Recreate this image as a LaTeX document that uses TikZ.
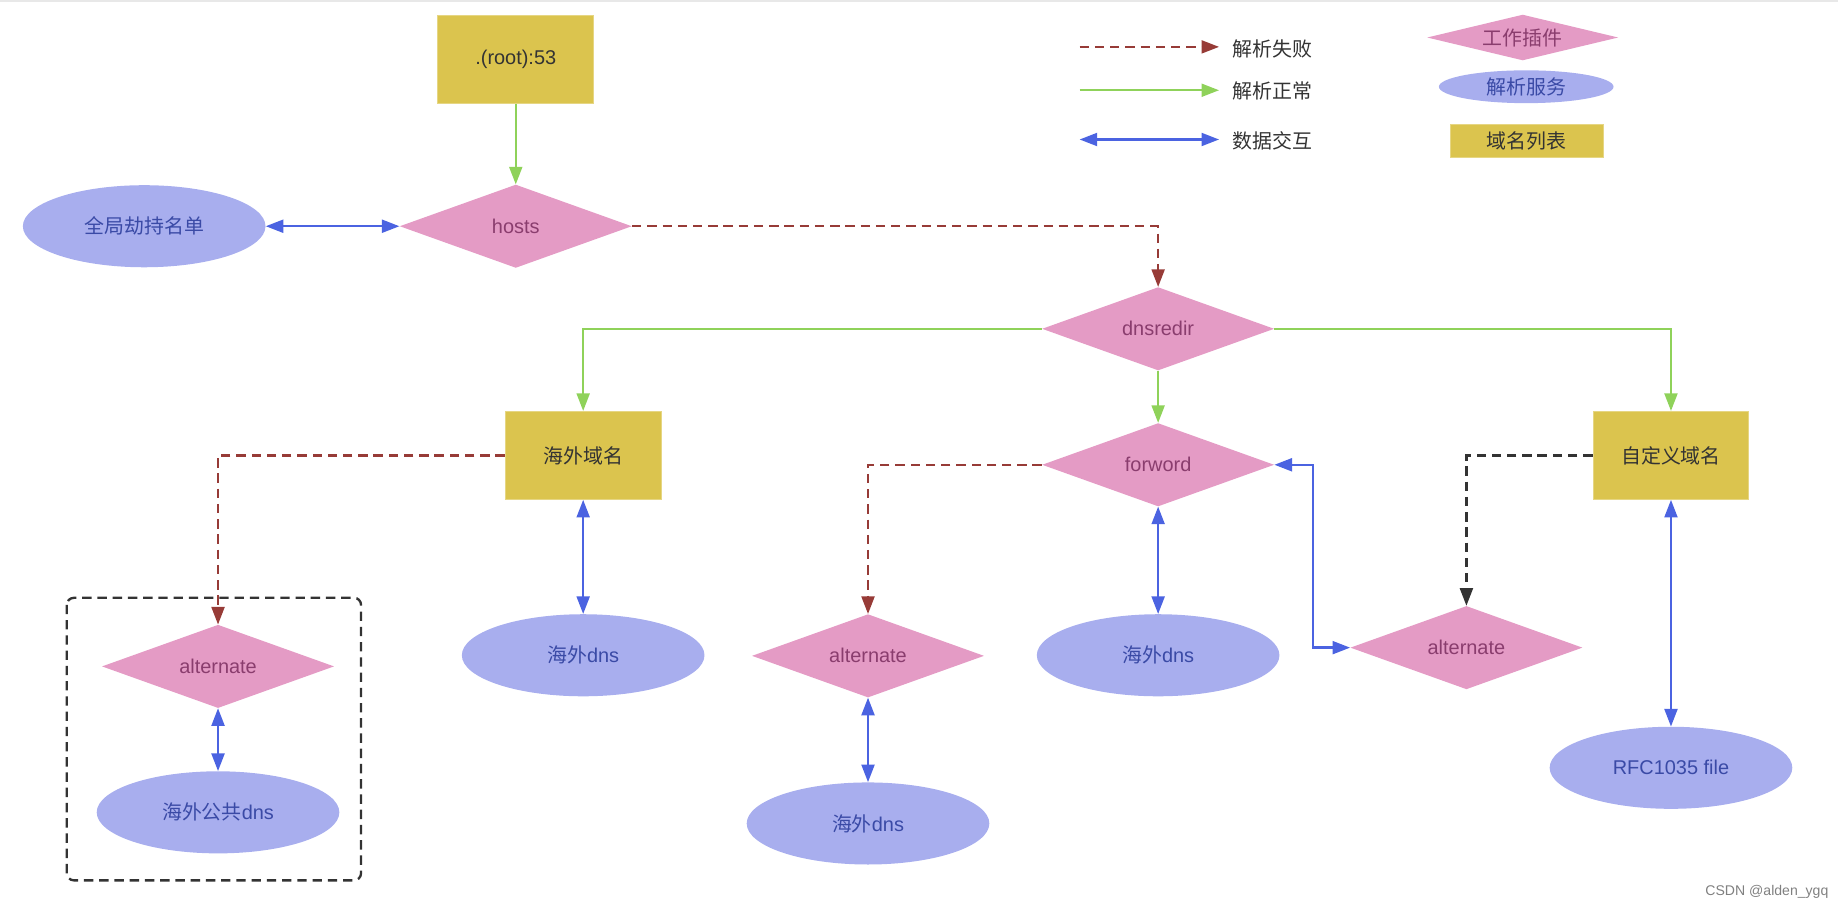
\documentclass[tikz,border=0pt]{standalone}
\usepackage{fontspec}
\setmainfont{Liberation Sans}
\newfontfamily\cjk{Noto Sans CJK SC}
\usetikzlibrary{arrows.meta,shapes.geometric}
\definecolor{listyellow}{HTML}{DBC44E}
\definecolor{pluginpink}{HTML}{E49BC5}
\definecolor{servblue}{HTML}{A8AEEE}
\definecolor{failred}{HTML}{973B37}
\definecolor{okgreen}{HTML}{8FD25A}
\definecolor{datablue}{HTML}{4B63E1}
\definecolor{plugintext}{HTML}{8A3D6E}
\definecolor{servtext}{HTML}{3A4AA6}
\definecolor{darktext}{HTML}{333333}
\tikzset{
  txt/.style={font=\fontsize{17}{20}\selectfont},
  domlist/.style={txt, rectangle, fill=listyellow, draw=listyellow!70!white, line width=0.8pt,
    text=darktext, minimum width=133pt, minimum height=75pt, inner sep=0pt},
  plugin/.style={txt, diamond, aspect=2.8, fill=pluginpink, text=plugintext,
    minimum width=198pt, minimum height=71pt, inner sep=0pt},
  serv/.style={txt, ellipse, fill=servblue, text=servtext,
    minimum width=207pt, minimum height=70pt, inner sep=0pt},
  fail/.style={draw=failred, line width=2pt, dash pattern=on 8pt off 5pt, -{Triangle[length=15pt,width=11pt]}, failred},
  okpath/.style={draw=okgreen, line width=2pt, -{Triangle[length=15pt,width=11pt]}, okgreen},
  data/.style={draw=datablue, line width=2pt, {Triangle[length=15pt,width=11pt]}-{Triangle[length=15pt,width=11pt]}, datablue},
  backup/.style={draw=darktext, line width=2pt, dash pattern=on 8pt off 5pt, -{Triangle[length=15pt,width=11pt]}, darktext},
  legtext/.style={txt, text=darktext, anchor=west, inner sep=0pt}
}

\begin{document}
\begin{tikzpicture}[x=1pt,y=-1pt]
			%%%%% START %%%%%
			\useasboundingbox (0,0) rectangle (1568,776);
			\fill[black!9] (0,0) rectangle (1568,2);
			
			% legend
			\coordinate (lfa) at (921,40);
			\coordinate (lfb) at (1040,40);
			\coordinate (loa) at (921,77);
			\coordinate (lob) at (1040,77);
			\coordinate (lda) at (921,119);
			\coordinate (ldb) at (1040,119);
			\draw[fail] (lfa) -- (lfb);
			\draw[okpath] (loa) -- (lob);
			\draw[data] (lda) -- (ldb);
			\node[legtext] (lfail) at (1051,42) {\cjk 解析失败};
			\node[legtext] (lok) at (1051,78) {\cjk 解析正常};
			\node[legtext] (ldata) at (1051,120) {\cjk 数据交互};
			\node[plugin, minimum width=163pt, minimum height=39pt, aspect=4.2] (lplugin) at (1299,32) {\cjk 工作插件};
			\node[serv, minimum width=149pt, minimum height=28pt] (lserv) at (1302,74) {\cjk 解析服务};
			\node[domlist, minimum width=131pt, minimum height=28pt] (llist) at (1302.5,120) {\cjk 域名列表};
			
			% nodes
			\node[domlist] (root) at (440,50.5) {.(root):53};
			\node[plugin] (hosts) at (440,193) {hosts};
			\node[serv] (hijack) at (123,193) {\cjk 全局劫持名单};
			\node[plugin] (dnsredir) at (988,280.5) {dnsredir};
			\node[domlist] (oversea) at (497.5,388.5) {\cjk 海外域名};
			\node[plugin] (forword) at (988,396.5) {forword};
			\node[domlist] (custom) at (1425.5,388.5) {\cjk 自定义域名};
			\node[plugin] (altA) at (186,568.5) {alternate};
			\node[serv] (pubdns) at (186,693) {{\cjk 海外公共}dns};
			\node[serv] (dnsA) at (497.5,559) {{\cjk 海外}dns};
			\node[plugin] (altB) at (740.5,559.5) {alternate};
			\node[serv] (dnsB) at (740.5,702.5) {{\cjk 海外}dns};
			\node[serv] (dnsC) at (988,559) {{\cjk 海外}dns};
			\node[plugin] (altC) at (1251,552.5) {alternate};
			\node[serv] (rfc) at (1425.5,655) {RFC1035 file};
			
			\draw[draw=darktext, line width=2pt, dash pattern=on 8pt off 5pt, rounded corners=6pt] (57,510) rectangle (308,751);
			
			% connectors
			\draw[okpath] (root) -- (hosts);
			\draw[data] (hijack) -- (hosts);
			\draw[fail] (hosts.east) -| (dnsredir.north);
			\draw[okpath] (dnsredir.west) -| (oversea.north);
			\draw[okpath] (dnsredir.east) -| (custom.north);
			\draw[okpath] (dnsredir) -- (forword);
			\draw[fail] (oversea.west) -| (altA.north);
			\draw[data] (altA) -- (pubdns);
			\draw[data] (oversea) -- (dnsA);
			\draw[fail] (forword.west) -| (altB.north);
			\draw[data] (altB) -- (dnsB);
			\draw[data] (forword) -- (dnsC);
			\draw[data] (forword.east) -- ++(33,0) |- (altC.west);
			\draw[backup] (custom.west) -| (altC.north);
			\draw[data] (custom) -- (rfc);
			
			\node[font=\fontsize{12}{14}\selectfont, text=black!50, anchor=east, inner sep=0pt] (mark) at (1560,761) {CSDN @alden\_ygq};
			%%%%% END %%%%%
\end{tikzpicture}
\end{document}
